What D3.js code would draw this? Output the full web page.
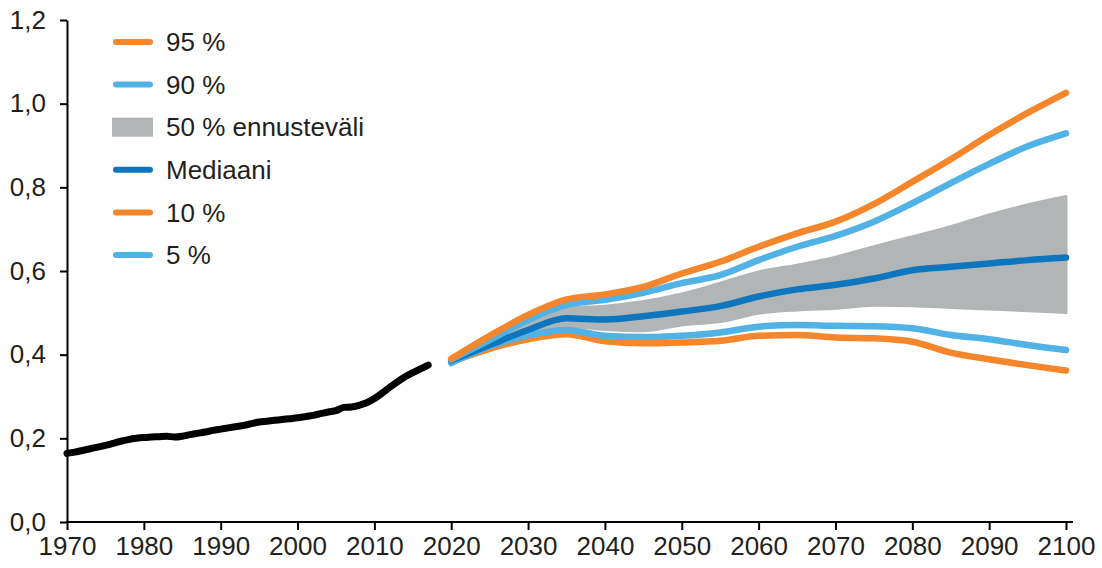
<!DOCTYPE html>
<html>
<head>
<meta charset="utf-8">
<script src="https://cdn.jsdelivr.net/npm/d3@7"></script>
<style>
  html, body { margin: 0; padding: 0; background: #fff; }
  svg { display: block; font-family: "Liberation Sans", Arial, sans-serif; }
</style>
</head>
<body>
<svg id="chart" width="1102" height="568"></svg>
<script>
// ---- Data ----
const histYears = [1970,1971,1972,1973,1974,1975,1976,1977,1978,1979,1980,1981,1982,1983,1984,1985,1986,1987,1988,1989,1990,1991,1992,1993,1994,1995,1996,1997,1998,1999,2000,2001,2002,2003,2004,2005,2006,2007,2008,2009,2010,2011,2012,2013,2014,2015,2016,2017];
const histValues = [0.164,0.167,0.171,0.175,0.179,0.183,0.188,0.193,0.197,0.200,0.202,0.203,0.204,0.205,0.203,0.205,0.209,0.212,0.215,0.219,0.222,0.225,0.228,0.231,0.235,0.239,0.241,0.243,0.245,0.247,0.249,0.252,0.255,0.259,0.263,0.266,0.274,0.275,0.279,0.285,0.295,0.308,0.322,0.335,0.347,0.357,0.366,0.375];

const fcYears = [2020,2025,2030,2035,2040,2045,2050,2055,2060,2065,2070,2075,2080,2085,2090,2095,2100];
const p95 = [0.390,0.445,0.495,0.532,0.544,0.562,0.594,0.622,0.658,0.690,0.718,0.760,0.813,0.867,0.925,0.978,1.026];
const p90 = [0.388,0.435,0.483,0.519,0.531,0.548,0.571,0.590,0.626,0.658,0.684,0.718,0.762,0.810,0.856,0.898,0.929];
const p75 = [0.388,0.431,0.475,0.512,0.516,0.527,0.545,0.571,0.598,0.614,0.633,0.658,0.682,0.706,0.734,0.758,0.778];
const median = [0.386,0.423,0.459,0.487,0.484,0.492,0.503,0.516,0.539,0.556,0.567,0.582,0.602,0.610,0.618,0.626,0.632];
const p25 = [0.384,0.424,0.455,0.468,0.460,0.457,0.471,0.479,0.499,0.507,0.511,0.518,0.517,0.513,0.509,0.505,0.501];
const p10 = [0.383,0.414,0.437,0.449,0.432,0.427,0.429,0.433,0.445,0.447,0.441,0.439,0.431,0.405,0.389,0.375,0.362];
const p5  = [0.380,0.420,0.446,0.459,0.445,0.442,0.445,0.453,0.467,0.471,0.469,0.468,0.463,0.447,0.437,0.423,0.411];

const xTicks = [1970,1980,1990,2000,2010,2020,2030,2040,2050,2060,2070,2080,2090,2100];
const yTicks = [0,0.2,0.4,0.6,0.8,1.0,1.2];

const legendLabels = ["95 %","90 %","50 % ennusteväli","Mediaani","10 %","5 %"];

// ---- Styles ----
const ORANGE = "#f5862b", LIGHT = "#51b2e5", DARK = "#0e76bf", GRAY = "#b2b5b6", TEXT = "#231f20";
const FONT = 26;

const svg = d3.select("#chart");
const x = d3.scaleLinear().domain([1970, 2100]).range([67, 1066]);
const y = d3.scaleLinear().domain([0, 1.2]).range([522, 20]);

const fmt = v => d3.format(".1f")(v).replace(".", ",");

// Band
const band = fcYears.map((yr, i) => ({yr, lo: p25[i], hi: p75[i]}));
svg.append("path")
  .datum(band)
  .attr("d", d3.area().x(d => x(d.yr)).y0(d => y(d.lo)).y1(d => y(d.hi)).curve(d3.curveMonotoneX))
  .attr("fill", GRAY)
  .attr("stroke", GRAY)
  .attr("stroke-width", 3)
  .attr("stroke-linejoin", "round");

const lineGen = d3.line().x(d => x(d[0])).y(d => y(d[1])).curve(d3.curveMonotoneX);

function drawLine(years, vals, color, w) {
  svg.append("path")
    .datum(years.map((yr, i) => [yr, vals[i]]))
    .attr("d", lineGen)
    .attr("fill", "none")
    .attr("stroke", color)
    .attr("stroke-width", w)
    .attr("stroke-linecap", "round")
    .attr("stroke-linejoin", "round");
}

drawLine(fcYears, p10, ORANGE, 6.5);
drawLine(fcYears, p5, LIGHT, 6.5);
drawLine(fcYears, median, DARK, 6.5);
drawLine(fcYears, p90, LIGHT, 6.5);
drawLine(fcYears, p95, ORANGE, 6.5);
drawLine(histYears, histValues, "#000", 7);

// Axes
const yAxis = svg.append("g").attr("transform", "translate(67,0)")
  .call(d3.axisLeft(y).tickValues(yTicks).tickFormat(fmt).tickSize(7).tickSizeOuter(0));
yAxis.select(".domain").attr("stroke", "#000").attr("stroke-width", 2);
yAxis.selectAll(".tick line").attr("stroke", "#000").attr("stroke-width", 2);
yAxis.selectAll(".tick text").attr("x", -21).attr("font-size", FONT).attr("fill", TEXT)
  .attr("font-family", "'Liberation Sans', Arial, sans-serif");

const xAxis = svg.append("g").attr("transform", "translate(0,522)")
  .call(d3.axisBottom(x).tickValues(xTicks).tickFormat(d3.format("d")).tickSize(8).tickSizeOuter(0));
xAxis.select(".domain").remove();
xAxis.append("line").attr("x1", 66).attr("x2", 1073).attr("y1", 0).attr("y2", 0)
  .attr("stroke", "#000").attr("stroke-width", 2);
xAxis.selectAll(".tick line").attr("stroke", "#000").attr("stroke-width", 2);
xAxis.selectAll(".tick text").attr("y", 15).attr("font-size", FONT).attr("fill", TEXT)
  .attr("font-family", "'Liberation Sans', Arial, sans-serif");

// Legend
const legendTypes = [
  {type: "line", color: ORANGE},
  {type: "line", color: LIGHT},
  {type: "rect", color: GRAY},
  {type: "line", color: DARK},
  {type: "line", color: ORANGE},
  {type: "line", color: LIGHT}
];
const lg = svg.append("g");
legendLabels.forEach((lab, i) => {
  const cy = 42 + i * 42.6;
  const t = legendTypes[i];
  if (t.type === "line") {
    lg.append("line").attr("x1", 116).attr("x2", 150).attr("y1", cy).attr("y2", cy)
      .attr("stroke", t.color).attr("stroke-width", 6).attr("stroke-linecap", "round");
  } else {
    lg.append("rect").attr("x", 112).attr("y", cy - 9.5).attr("width", 41).attr("height", 19)
      .attr("fill", t.color);
  }
  lg.append("text").attr("x", 166).attr("y", cy).attr("dy", "0.35em")
    .attr("font-size", FONT).attr("fill", TEXT).text(lab);
});
</script>
</body>
</html>
